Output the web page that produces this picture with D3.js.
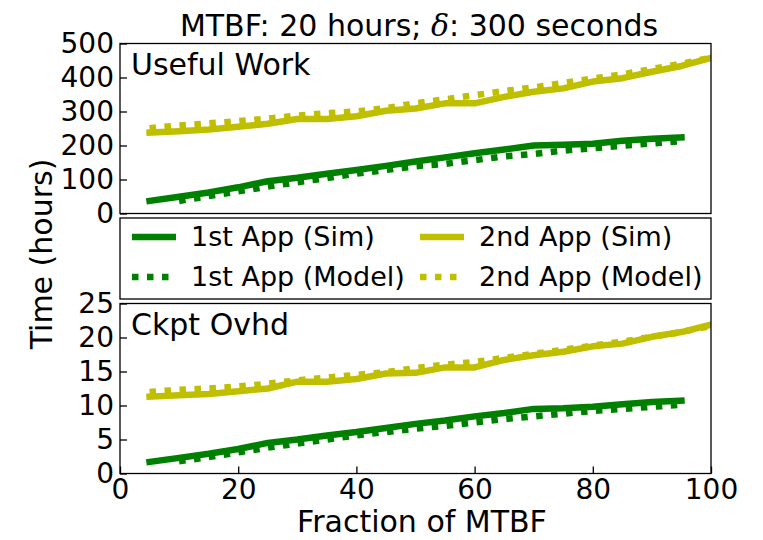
<!DOCTYPE html>
<html>
<head>
<meta charset="utf-8">
<script src="https://cdn.jsdelivr.net/npm/d3@7"></script>
<style>
  body { margin: 0; background: #fff; }
  text { font-family: "DejaVu Sans", sans-serif; fill: #000; }
</style>
</head>
<body>
<svg width="763" height="540"></svg>
<script>
// fraction of MTBF (%) at which each run was measured
const fractions = [5, 10, 15, 20, 25, 30, 35, 40, 45, 50, 55, 60, 65, 70, 75, 80, 85, 90, 95, 100];

// useful work (hours)
const work1Sim = [37, 49, 62, 77, 95, 105, 117, 128, 140, 153, 165, 177, 188, 200, 202, 205, 214, 220, 224, null];
const work1Model = [null, 37, 51, 65, 79, 92, 104, 117, 128, 139, 146, 157, 168, 175, 185, 192, 199, 206, 213, null];
const work2Sim = [238, 242, 247, 255, 264, 278, 278, 286, 302, 309, 324, 324, 343, 358, 368, 388, 398, 417, 434, 458];
const work2Model = [251, 259, 265, 272, 279, 288, 295, 300, 310, 324, 336, 348, 360, 371, 384, 397, 409, 425, 441, 458];

// checkpoint overhead (hours)
const ovhd1Sim = [1.7, 2.3, 2.9, 3.6, 4.5, 5.0, 5.6, 6.1, 6.7, 7.3, 7.8, 8.4, 8.9, 9.5, 9.6, 9.8, 10.2, 10.5, 10.7, null];
const ovhd1Model = [null, 1.8, 2.4, 3.1, 3.8, 4.4, 5.0, 5.6, 6.1, 6.6, 7.0, 7.5, 8.0, 8.4, 8.8, 9.2, 9.5, 9.8, 10.1, null];
const ovhd2Sim = [11.3, 11.5, 11.7, 12.1, 12.5, 13.5, 13.5, 13.9, 14.7, 14.8, 15.6, 15.6, 16.7, 17.4, 17.9, 18.7, 19.1, 20.1, 20.8, 21.9];
const ovhd2Model = [12.0, 12.3, 12.5, 12.8, 13.2, 13.7, 14.1, 14.5, 14.9, 15.5, 16.0, 16.4, 17.0, 17.6, 18.2, 18.8, 19.4, 20.1, 20.8, 21.7];

const workTicks = [0, 100, 200, 300, 400, 500];
const ovhdTicks = [0, 5, 10, 15, 20, 25];
const xTicks = [0, 20, 40, 60, 80, 100];

const seriesNames = ["1st App (Sim)", "1st App (Model)", "2nd App (Sim)", "2nd App (Model)"];
const colors = ["#008000", "#008000", "#bfbf00", "#bfbf00"];
const dashed = [false, true, false, true];

const svg = d3.select("svg"),
  tickSize = 28,
  labelSize = 30,
  lineW = 6.5,
  dots = "6.5,8.5";

const xScale = d3.scaleLinear().domain([0, 100]).range([120, 711]);
const yWork = d3.scaleLinear().domain([0, 500]).range([213.5, 43.5]);
const yOvhd = d3.scaleLinear().domain([0, 25]).range([473.5, 303.5]);

function drawPanel(id, yScale, ticks, label, series, showX) {
  const [y0, y1] = yScale.range();
  const g = svg.append("g");

  g.append("clipPath")
    .attr("id", id)
    .append("rect")
    .attr("x", xScale(0))
    .attr("y", y1)
    .attr("width", xScale(100) - xScale(0))
    .attr("height", y0 - y1);

  const line = d3
    .line()
    .defined(d => d[1] != null)
    .x(d => xScale(d[0]))
    .y(d => yScale(d[1]));

  series.forEach((vals, i) => {
    g.append("path")
      .datum(fractions.map((f, j) => [f, vals[j]]))
      .attr("clip-path", `url(#${id})`)
      .attr("fill", "none")
      .attr("stroke", colors[i])
      .attr("stroke-width", lineW)
      .attr("stroke-linejoin", "round")
      .attr("stroke-linecap", dashed[i] ? "butt" : "square")
      .attr("stroke-dasharray", dashed[i] ? dots : null)
      .attr("d", line);
  });

  const yAxis = g
    .append("g")
    .attr("transform", `translate(${xScale(0)},0)`)
    .call(
      d3
        .axisLeft(yScale)
        .tickValues(ticks)
        .tickSize(-7)
        .tickPadding(6)
    );
  yAxis.select(".domain").remove();
  yAxis.selectAll("line").attr("stroke", "#000").attr("stroke-width", 1.3);
  yAxis
    .selectAll("text")
    .attr("font-size", tickSize)
    .attr("font-family", "DejaVu Sans");

  if (showX) {
    const xAxis = g
      .append("g")
      .attr("transform", `translate(0,${y0})`)
      .call(
        d3
          .axisBottom(xScale)
          .tickValues(xTicks)
          .tickSize(-7)
          .tickPadding(6)
      );
    xAxis.select(".domain").remove();
    xAxis.selectAll("line").attr("stroke", "#000").attr("stroke-width", 1.3);
    xAxis
      .selectAll("text")
      .attr("font-size", tickSize)
      .attr("font-family", "DejaVu Sans");
  }

  g.append("rect")
    .attr("x", xScale(0))
    .attr("y", y1)
    .attr("width", xScale(100) - xScale(0))
    .attr("height", y0 - y1)
    .attr("fill", "none")
    .attr("stroke", "#000")
    .attr("stroke-width", 1.3);

  g.append("text")
    .attr("x", xScale(0) + 11)
    .attr("y", y1 + 31)
    .attr("font-size", 30)
    .text(label);
}

drawPanel("clip-work", yWork, workTicks, "Useful Work", [work1Sim, work1Model, work2Sim, work2Model], false);
drawPanel("clip-ovhd", yOvhd, ovhdTicks, "Ckpt Ovhd", [ovhd1Sim, ovhd1Model, ovhd2Sim, ovhd2Model], true);

// legend box between the panels
const legend = svg.append("g");
legend
  .append("rect")
  .attr("x", xScale(0))
  .attr("y", 218)
  .attr("width", xScale(100) - xScale(0))
  .attr("height", 81)
  .attr("fill", "#fff")
  .attr("stroke", "#000")
  .attr("stroke-width", 1.3);

seriesNames.forEach((name, i) => {
  const col = Math.floor(i / 2),
    row = i % 2,
    lx = 132 + col * 288,
    ly = 237 + row * 40;
  legend
    .append("line")
    .attr("x1", lx)
    .attr("x2", lx + 44)
    .attr("y1", ly)
    .attr("y2", ly)
    .attr("stroke", colors[i])
    .attr("stroke-width", lineW)
    .attr("stroke-dasharray", dashed[i] ? dots : null);
  legend
    .append("text")
    .attr("x", lx + 59)
    .attr("y", ly)
    .attr("dy", "0.35em")
    .attr("font-size", 27)
    .text(name);
});

// title and axis labels
const title = svg
  .append("text")
  .attr("x", 419)
  .attr("y", 36)
  .attr("text-anchor", "middle")
  .attr("font-size", 30);
title.append("tspan").text("MTBF: 20 hours; ");
title.append("tspan").attr("font-style", "italic").attr("font-family", "DejaVu Serif").text("δ");
title.append("tspan").text(": 300 seconds");

svg
  .append("text")
  .attr("x", 422)
  .attr("y", 532)
  .attr("text-anchor", "middle")
  .attr("font-size", labelSize)
  .text("Fraction of MTBF");

svg
  .append("text")
  .attr("transform", "translate(52,254) rotate(-90)")
  .attr("text-anchor", "middle")
  .attr("font-size", labelSize)
  .text("Time (hours)");
</script>
</body>
</html>
